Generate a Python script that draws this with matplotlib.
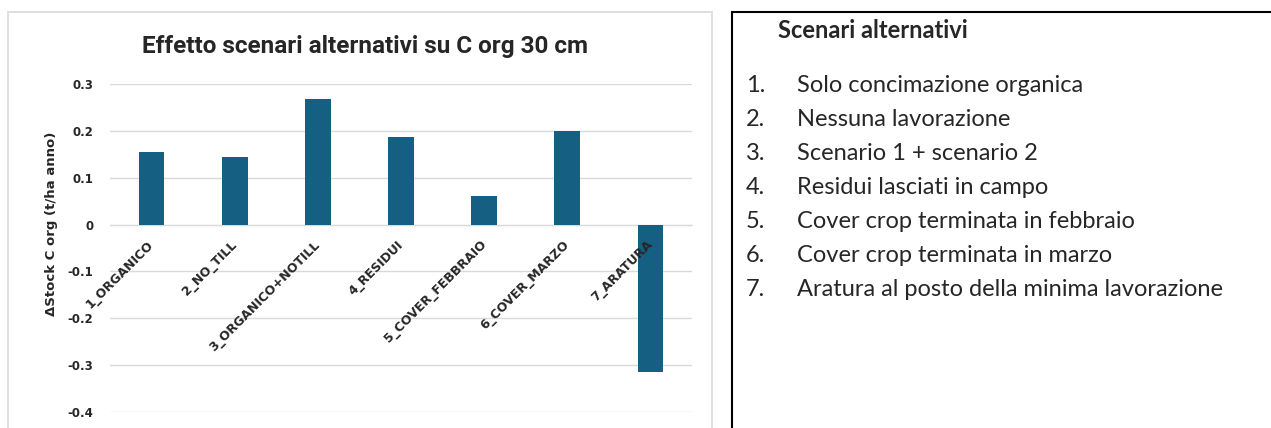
import matplotlib.pyplot as plt
from matplotlib.patches import Rectangle

# Data
categories = ['1_ORGANICO', '2_NO_TILL', '3_ORGANICO+NOTILL', '4_RESIDUI',
              '5_COVER_FEBBRAIO', '6_COVER_MARZO', '7_ARATURA']
delta_stock = [0.155, 0.144, 0.269, 0.187, 0.062, 0.200, -0.314]
y_ticks = [0.3, 0.2, 0.1, 0, -0.1, -0.2, -0.3, -0.4]
y_tick_labels = ['0.3', '0.2', '0.1', '0', '-0.1', '-0.2', '-0.3', '-0.4']

panel_title = 'Scenari alternativi'
scenario_notes = ['Solo concimazione organica', 'Nessuna lavorazione',
                  'Scenario 1 + scenario 2', 'Residui lasciati in campo',
                  'Cover crop terminata in febbraio', 'Cover crop terminata in marzo',
                  'Aratura al posto della minima lavorazione']

W, H = 1271, 428
bar_color = '#156082'
text_dark = '#262626'


def fx(px):
    return px / W


def fy(py):
    return 1 - py / H


fig = plt.figure(figsize=(W / 100, H / 100), dpi=100)

# chart frame (light grey, Excel style) and text panel frame (black)
fig.patches.append(Rectangle((fx(8), fy(440)), fx(712) - fx(8), fy(12) - fy(440),
                             transform=fig.transFigure, fill=False,
                             edgecolor='#d9d9d9', lw=1.2, clip_on=False))
fig.patches.append(Rectangle((fx(732), fy(440)), fx(1300) - fx(732), fy(12) - fy(440),
                             transform=fig.transFigure, fill=False,
                             edgecolor='black', lw=1.5, clip_on=False))

# bar chart
ax = fig.add_axes([fx(110), fy(412), fx(692) - fx(110), fy(84) - fy(412)])
x = range(len(categories))
ax.bar(x, delta_stock, width=0.31, color=bar_color, zorder=2)
ax.set_xlim(-0.5, len(categories) - 0.5)
ax.set_ylim(-0.4, 0.3)
ax.set_yticks(y_ticks)
ax.set_yticklabels(y_tick_labels, fontsize=8.5, fontweight='bold', color=text_dark)
ax.yaxis.grid(True, color='#d9d9d9', lw=1)
for s in ['top', 'right', 'left']:
    ax.spines[s].set_visible(False)
ax.spines['bottom'].set_position(('data', 0))
ax.spines['bottom'].set_color('#d9d9d9')
ax.spines['bottom'].set_zorder(1)
ax.set_xticks(list(x))
ax.set_xticklabels(categories, rotation=45, ha='right', va='center',
                   rotation_mode='anchor', fontsize=9, fontweight='bold',
                   color=text_dark)
ax.tick_params(axis='x', length=0, pad=13)
ax.tick_params(axis='y', length=0, pad=12)
# grid behind the bars, category labels over them (7_ARATURA sits on its bar)
ax.yaxis.set_zorder(0.5)
ax.xaxis.set_zorder(4)
ax.set_ylabel('ΔStock C org (t/ha anno)', fontsize=9.5, fontweight='bold',
              color=text_dark)
ax.yaxis.set_label_coords(-0.089, (fy(224) - fy(412)) / (fy(84) - fy(412)))

fig.text(fx(365), fy(47), 'Effetto scenari alternativi su C org 30 cm',
         ha='center', va='center', fontsize=17.5, fontweight='bold',
         family='Roboto', color=text_dark)

# text panel
fig.text(fx(778), fy(30), panel_title, ha='left', va='center', fontsize=17,
         fontweight='bold', family='Lato', color=text_dark)
for i, note in enumerate(scenario_notes):
    yy = fy(85 + i * 34)
    fig.text(fx(746), yy, f'{i + 1}.', ha='left', va='center', fontsize=17,
             family='Lato', color=text_dark)
    fig.text(fx(797), yy, note, ha='left', va='center', fontsize=17,
             family='Lato', color=text_dark)

plt.savefig('out.png', dpi=100)
